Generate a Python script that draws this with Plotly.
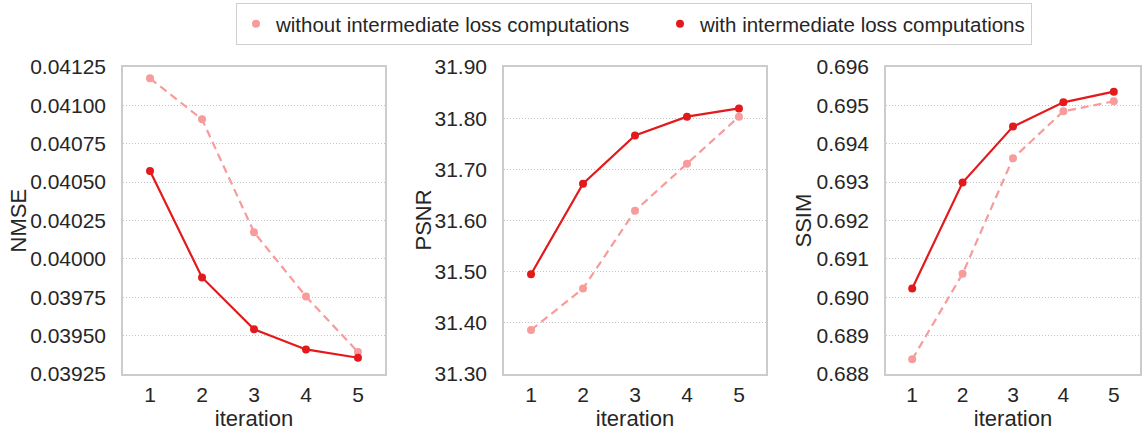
import plotly.graph_objects as go
from plotly.subplots import make_subplots

iterations = [1, 2, 3, 4, 5]

nmse_without = [0.041176, 0.040909, 0.040174, 0.039755, 0.039393]
nmse_with = [0.040573, 0.039879, 0.039541, 0.039410, 0.039356]

psnr_without = [31.386, 31.467, 31.619, 31.711, 31.803]
psnr_with = [31.495, 31.672, 31.766, 31.803, 31.819]

ssim_without = [0.688382, 0.690612, 0.693623, 0.694846, 0.695106]
ssim_with = [0.690230, 0.692990, 0.694447, 0.695080, 0.695358]

metric_names = ["NMSE", "PSNR", "SSIM"]
y_ranges = [[0.03925, 0.04125], [31.30, 31.90], [0.688, 0.696]]
y_dtick = [0.00025, 0.1, 0.001]
y_formats = [".5f", ".2f", ".3f"]

series_without = [nmse_without, psnr_without, ssim_without]
series_with = [nmse_with, psnr_with, ssim_with]

label_without = "without intermediate loss computations"
label_with = "with intermediate loss computations"

c_without = "#f79b9b"
c_with = "#e31a1c"

W, H = 1143, 435
FONT = "Arial, Liberation Sans, sans-serif"
TXT = "#262626"

fig = make_subplots(rows=1, cols=3)

for i in range(3):
    fig.add_trace(go.Scatter(
        x=iterations, y=series_without[i], mode="lines+markers",
        line=dict(color=c_without, width=2.2, dash="8px,5px"),
        marker=dict(color=c_without, size=8),
        showlegend=False, legendgroup="wo"), row=1, col=i + 1)
    fig.add_trace(go.Scatter(
        x=iterations, y=series_with[i], mode="lines+markers",
        line=dict(color=c_with, width=2.2),
        marker=dict(color=c_with, size=8),
        showlegend=False, legendgroup="w"), row=1, col=i + 1)

# legend-only entries (dot symbol)
fig.add_trace(go.Scatter(x=[None], y=[None], mode="markers", name=label_without,
                         marker=dict(color=c_without, size=8), legendgroup="wo",
                         legendwidth=379))
fig.add_trace(go.Scatter(x=[None], y=[None], mode="markers", name=label_with,
                         marker=dict(color=c_with, size=8), legendgroup="w",
                         legendwidth=326))

x_dom = [(123, 385), (504, 766), (886, 1140)]
y_dom = ((H - 374) / H, (H - 67) / H)
y_title_x = [18, 423, 803]

for i in range(3):
    xa = "xaxis" if i == 0 else f"xaxis{i+1}"
    ya = "yaxis" if i == 0 else f"yaxis{i+1}"
    fig.layout[xa].update(
        domain=[x_dom[i][0] / W, x_dom[i][1] / W],
        range=[0.48, 5.52], tickmode="array", tickvals=iterations,
        showgrid=False, zeroline=False,
        showline=True, mirror=True, linecolor="#cccccc", linewidth=1.5,
        ticks="", ticklabelstandoff=1,
        tickfont=dict(family=FONT, size=21, color=TXT),
        title=dict(text="iteration", font=dict(family=FONT, size=22, color=TXT), standoff=5),
    )
    fig.layout[ya].update(
        domain=list(y_dom),
        range=y_ranges[i], dtick=y_dtick[i], tick0=y_ranges[i][0],
        tickformat=y_formats[i],
        showgrid=True, gridcolor="#c4c4c4", griddash="1px,2px", gridwidth=1,
        zeroline=False,
        showline=True, mirror=True, linecolor="#cccccc", linewidth=1.5,
        ticks="", ticklabelstandoff=11,
        tickfont=dict(family=FONT, size=21, color=TXT),
    )
    fig.add_annotation(
        text=metric_names[i], textangle=-90, showarrow=False,
        xref="paper", yref="paper", x=y_title_x[i] / W, y=sum(y_dom) / 2,
        xanchor="center", yanchor="middle",
        font=dict(family=FONT, size=22, color=TXT),
    )

fig.update_layout(
    width=W, height=H,
    margin=dict(l=0, r=0, t=0, b=0, autoexpand=False),
    paper_bgcolor="white", plot_bgcolor="white",
    font=dict(family=FONT, color=TXT),
    showlegend=True,
    legend=dict(
        orientation="h", x=634 / W, xanchor="center", y=1 - 3 / H, yanchor="top",
        bordercolor="#d0d0d0", borderwidth=1, bgcolor="white",
        font=dict(family=FONT, size=20.5, color=TXT),
        itemwidth=30,
    ),
)

fig.write_html("out.html")
